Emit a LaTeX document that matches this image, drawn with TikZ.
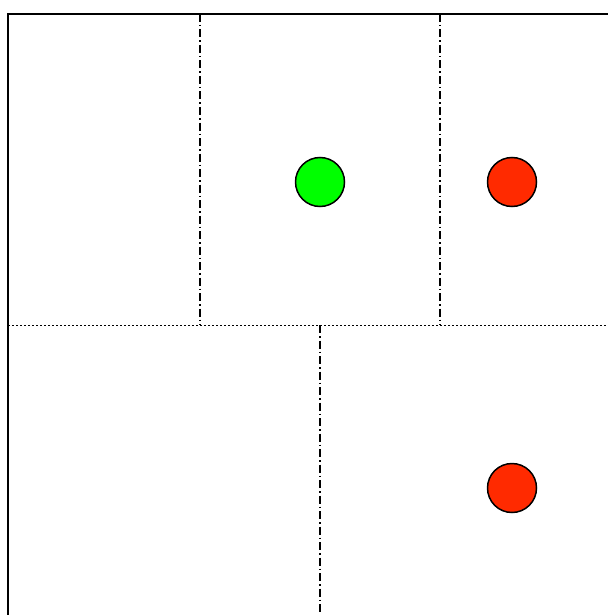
\documentclass[tikz,border=0pt]{standalone}
\usetikzlibrary{positioning}

\definecolor{spotgreen}{RGB}{0,255,0}
\definecolor{spotred}{RGB}{255,42,0}

\begin{document}
\begin{tikzpicture}[
    x=0.5pt,
    y=-0.5pt,
    frame/.style={draw, line width=1.45pt},
    cut/.style={line width=0.6pt, dash pattern=on 4pt off 1.5pt on 0.75pt off 1.5pt},
    split/.style={line width=0.5pt, dash pattern=on 0.9pt off 1.1pt},
    spot/.style={circle, draw, line width=0.75pt, minimum size=24.5pt, inner sep=0pt}
]

\useasboundingbox (0,0) rectangle (608,615);
\clip (0,0) rectangle (608,615);

% outer frame, running off the page to the right and below
\draw[frame] (8,14) rectangle (640,650);

% split between upper and lower halves
\draw[split] (8,325) -- (608,325);

% upper half cuts
\draw[cut] (200,14) -- (200,325);
\draw[cut] (440,14) -- (440,325);

% lower half cut
\draw[cut] (320,325) -- (320,615);

% spots
\node[spot, fill=spotgreen] (green) at (320,182) {};
\node[spot, fill=spotred] (redtop) at (512,182) {};
\node[spot, fill=spotred] (redbottom) at (512,488) {};

\end{tikzpicture}
\end{document}
